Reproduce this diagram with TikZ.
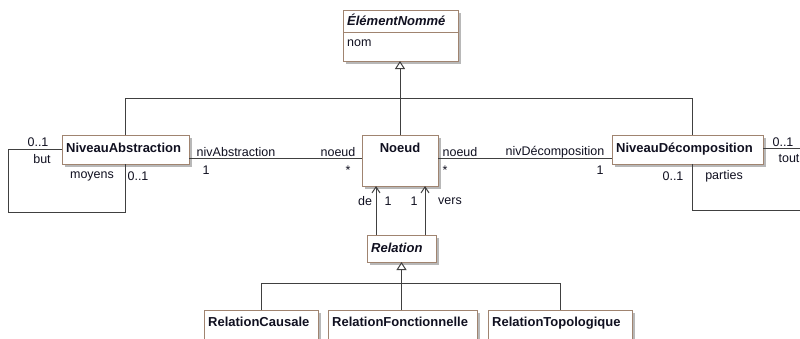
\documentclass[tikz,border=0pt]{standalone}
\usepackage{fontspec}
\setmainfont{Liberation Sans}
\usetikzlibrary{arrows.meta,shadows,calc}
\definecolor{boxedge}{HTML}{A08470}
\definecolor{wirecol}{HTML}{404040}
\definecolor{ink}{HTML}{101020}
\begin{document}
\begin{tikzpicture}[x=1pt,y=-1pt,
  umlclass/.style={draw=boxedge, line width=1pt, fill=white, inner sep=0pt,
    outer sep=0pt, anchor=north west,
    drop shadow={shadow xshift=3pt, shadow yshift=-3pt, fill=black!28, opacity=1}},
  cname/.style={font=\fontsize{13}{15}\selectfont\bfseries, text=ink,
    inner sep=0pt, anchor=base west},
  attr/.style={font=\fontsize{12.5}{14}\selectfont, text=ink,
    inner sep=0pt, anchor=base west},
  role/.style={font=\fontsize{12.5}{14}\selectfont, text=ink, inner sep=0pt},
  wire/.style={draw=wirecol, line width=1pt},
  inherit/.style={wire, -{Triangle[open, width=10pt, length=8pt, fill=white]}},
  nav/.style={wire, -{Straight Barb[length=6pt, width=8pt]}}
]
\clip (0,0) rectangle (800,338);
\fill[white] (0,0) rectangle (800,338);

% classes
\node[umlclass, minimum width=115pt, minimum height=51pt] (elem) at (343,10) {};
\draw[boxedge, line width=1pt] (elem.west |- 0,32) -- (elem.east |- 0,32);
\node[cname, font=\fontsize{13}{15}\selectfont\bfseries\itshape] (elemname) at (347,25) {ÉlémentNommé};
\node[attr] (elemattr) at (347,46) {nom};

\node[umlclass, minimum width=127pt, minimum height=29pt] (na) at (62,135) {};
\node[cname] (naname) at (66,152) {NiveauAbstraction};

\node[umlclass, minimum width=76pt, minimum height=51pt] (noeud) at (362,135) {};
\node[cname, anchor=base] (noeudname) at (400,152) {Noeud};

\node[umlclass, minimum width=151pt, minimum height=29pt] (nd) at (612,135) {};
\node[cname] (ndname) at (616,152) {NiveauDécomposition};

\node[umlclass, minimum width=69pt, minimum height=27pt] (rel) at (367,235) {};
\node[cname, font=\fontsize{13}{15}\selectfont\bfseries\itshape] (relname) at (371,252) {Relation};

\node[umlclass, minimum width=114pt, minimum height=40pt] (rc) at (204,310) {};
\node[cname] (rcname) at (208,326) {RelationCausale};
\node[umlclass, minimum width=149pt, minimum height=40pt] (rf) at (328,310) {};
\node[cname] (rfname) at (332,326) {RelationFonctionnelle};
\node[umlclass, minimum width=144pt, minimum height=40pt] (rt) at (488,310) {};
\node[cname] (rtname) at (492,326) {RelationTopologique};

% generalisation to ÉlémentNommé
\coordinate (busA) at (0,98);
\coordinate (ndtop) at (692,135);
\draw[inherit] (noeud.north) -- (noeud.north |- elem.south);
\draw[wire] (na.north) -- (na.north |- busA) -- (ndtop |- busA) -- (ndtop);

% generalisation to Relation
\coordinate (busB) at (0,283);
\draw[inherit] (rel.south |- rf.north) -- (rel.south);
\draw[wire] (rc.north) -- (rc.north |- busB) -- (rt.north |- busB) -- (rt.north);

% associations with Noeud
\coordinate (assocY) at (0,158);
\draw[wire] (na.east |- assocY) -- (noeud.west |- assocY);
\draw[wire] (noeud.east |- assocY) -- (nd.west |- assocY);
\node[role] (l1) at (236,152) {nivAbstraction};
\node[role] (l2) at (338,152) {noeud};
\node[role] (l3) at (206,170) {1};
\node[role] (l4) at (348,170) {*};
\node[role] (l5) at (460,152) {noeud};
\node[role] (l6) at (555,152) {nivDécomposition};
\node[role] (l7) at (445,170) {*};
\node[role] (l8) at (600,170) {1};

% reflexive association on NiveauAbstraction
\draw[wire] (na.west |- 0,149) -| (8,212) -| (na.south);
\node[role] (l9) at (38,142) {0..1};
\node[role] (l10) at (42,159) {but};
\node[role] (l11) at (92,176) {moyens};
\node[role] (l12) at (138,176) {0..1};

% reflexive association on NiveauDécomposition
\coordinate (ndbot) at (692,164);
\draw[wire] (nd.east |- 0,148) -| (812,210) -| (ndbot);
\node[role] (l13) at (783,142) {0..1};
\node[role] (l14) at (789,159) {tout};
\node[role] (l15) at (673,176) {0..1};
\node[role] (l16) at (724,176) {parties};

% Relation navigations towards Noeud
\coordinate (deS) at ($(rel.north west)+(9,0)$);
\coordinate (versS) at ($(rel.north west)+(58,0)$);
\draw[nav] (deS) -- (deS |- noeud.south);
\draw[nav] (versS) -- (versS |- noeud.south);
\node[role] (l17) at (365,201) {de};
\node[role] (l18) at (388,201) {1};
\node[role] (l19) at (414,201) {1};
\node[role] (l20) at (450,201) {vers};
\end{tikzpicture}
\end{document}
